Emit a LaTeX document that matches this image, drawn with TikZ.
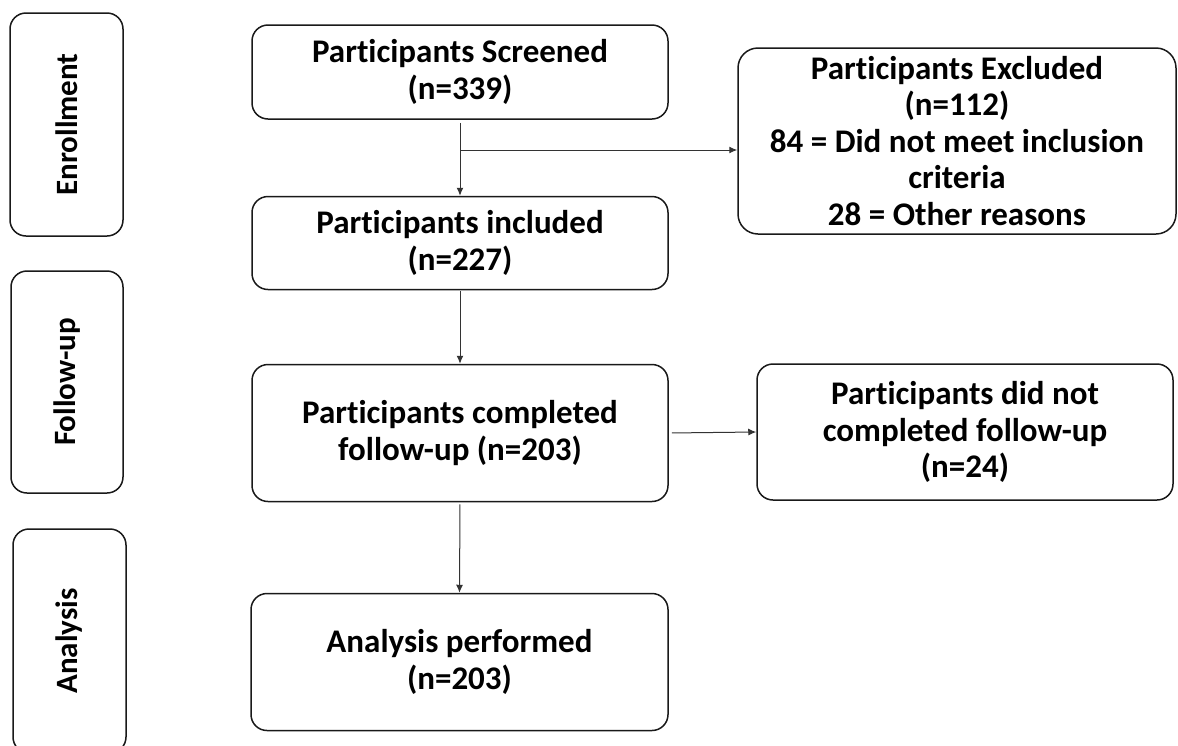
\documentclass[tikz,border=0pt]{standalone}
\usepackage{fontspec}
\setmainfont[Ligatures=NoCommon]{Carlito}
\usetikzlibrary{arrows.meta}
\begin{document}
\begin{tikzpicture}[x=1pt,y=-1pt,
  box/.style={draw=black!90,line width=1.5pt,rounded corners=16pt,fill=white,align=center,
    inner sep=0pt,font=\fontsize{33}{36.5}\selectfont\bfseries},
  side/.style={draw=black!90,line width=1.5pt,rounded corners=16pt,fill=white,inner sep=0pt},
  sidelabel/.style={rotate=90,font=\fontsize{31}{35}\selectfont\bfseries,inner sep=0pt},
  arr/.style={draw=black!80,line width=1pt,-{Latex[length=8pt,width=7pt]}}]
\useasboundingbox (0,0) rectangle (1178,745);
\clip (0,0) rectangle (1178,745);
% phase boxes
\node[side,minimum width=113pt,minimum height=223pt] (s1) at (66.5,124.5) {};
\node[sidelabel] (l1) at (s1.center) {Enrollment};
\node[side,minimum width=112pt,minimum height=222pt] (s2) at (67,382) {};
\node[sidelabel] (l2) at (s2.center) {Follow-up};
\node[side,minimum width=113pt,minimum height=224pt] (s3) at (69.5,641) {};
\node[sidelabel] (l3) at (s3.center) {Analysis};
% main boxes
\node[box,minimum width=416pt,minimum height=94pt] (scr) at (460,72) {Participants Screened\\(n=339)};
\node[box,minimum width=416pt,minimum height=93pt] (inc) at (460,243) {Participants included\\(n=227)};
\node[box,minimum width=416pt,minimum height=137pt] (comp) at (460,433) {Participants completed\\follow-up (n=203)};
\node[box,minimum width=417pt,minimum height=137pt] (anal) at (459.5,662) {Analysis performed\\(n=203)};
\node[box,rounded corners=20pt,minimum width=438pt,minimum height=186pt] (excl) at (957,141) {Participants Excluded\\(n=112)\\84 = Did not meet inclusion\\criteria\\28 = Other reasons};
\node[box,minimum width=416pt,minimum height=136pt] (notc) at (965,432) {Participants did not\\completed follow-up\\(n=24)};
% connectors
\coordinate (br) at (460,150);
\draw[arr,shorten <=3pt] (scr.south) -- (inc.north);
\draw[arr] (br) -- (excl.west |- br);
\draw[arr,shorten <=1pt] (inc.south) -- (comp.north);
\draw[arr,shorten <=3pt] (comp.east) -- (notc.west);
\draw[arr,shorten <=2pt] (comp.south) -- (anal.north);
\end{tikzpicture}
\end{document}
